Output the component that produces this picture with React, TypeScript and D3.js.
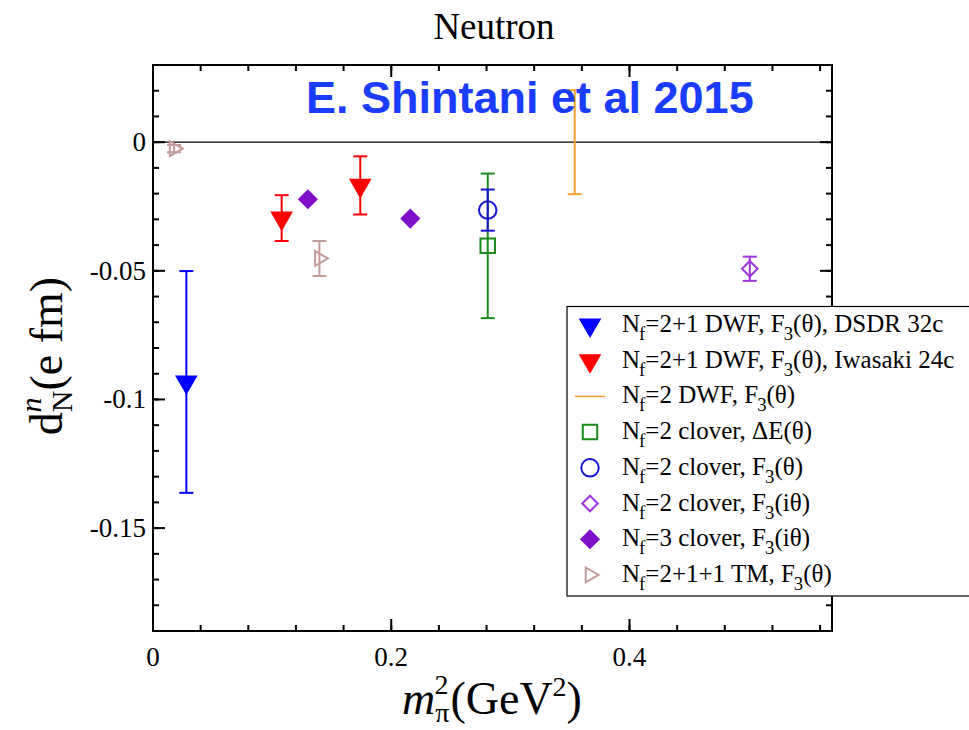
import React from 'react'
import * as d3 from 'd3'

const W = 969
const H = 730

// axis ranges and ticks
const xDomain = [0, 0.57]
const yDomain = [-0.19, 0.03]
const xMajorTicks = [0, 0.2, 0.4]
const xMajorLabels = ['0', '0.2', '0.4']
const yMajorTicks = [0, -0.05, -0.1, -0.15]
const yMajorLabels = ['0', '-0.05', '-0.1', '-0.15']

// Nf=2+1 DWF, F3(theta), DSDR 32c
const dsdrX = [0.028]
const dsdrY = [-0.0932]
const dsdrErr = [0.0431]
// Nf=2+1 DWF, F3(theta), Iwasaki 24c
const iwaX = [0.108, 0.174]
const iwaY = [-0.0295, -0.0168]
const iwaErr = [0.0089, 0.0113]
// Nf=2 DWF, F3(theta)
const dwf2X = [0.354]
const dwf2Y = [0.0]
const dwf2Err = [0.0202]
// Nf=2 clover, dE(theta)
const cloverDeX = [0.281]
const cloverDeY = [-0.0403]
const cloverDeErr = [0.0281]
// Nf=2 clover, F3(theta)
const cloverF3X = [0.281]
const cloverF3Y = [-0.0264]
const cloverF3Err = [0.008]
// Nf=2 clover, F3(i theta)
const clover2iX = [0.501]
const clover2iY = [-0.0492]
const clover2iErr = [0.0047]
// Nf=3 clover, F3(i theta)
const clover3iX = [0.13, 0.216]
const clover3iY = [-0.0222, -0.0297]
const clover3iErr = [0.0, 0.0]
// Nf=2+1+1 TM, F3(theta)
const tmX = [0.0177, 0.1397]
const tmY = [-0.0025, -0.0452]
const tmErr = [0.0014, 0.0068]

const legendLabels = [
  'N_f=2+1 DWF, F_3(θ), DSDR 32c',
  'N_f=2+1 DWF, F_3(θ), Iwasaki 24c',
  'N_f=2 DWF, F_3(θ)',
  'N_f=2 clover, ΔE(θ)',
  'N_f=2 clover, F_3(θ)',
  'N_f=2 clover, F_3(iθ)',
  'N_f=3 clover, F_3(iθ)',
  'N_f=2+1+1 TM, F_3(θ)',
]

type Marker = 'downTri' | 'none' | 'square' | 'circle' | 'diamond' | 'rightTri'

const series = [
  { xs: dsdrX, ys: dsdrY, errs: dsdrErr, color: '#0000ff', marker: 'downTri' as Marker, filled: true },
  { xs: iwaX, ys: iwaY, errs: iwaErr, color: '#ff0000', marker: 'downTri' as Marker, filled: true },
  { xs: dwf2X, ys: dwf2Y, errs: dwf2Err, color: '#f5a030', marker: 'none' as Marker, filled: false },
  { xs: cloverDeX, ys: cloverDeY, errs: cloverDeErr, color: '#1a8a1a', marker: 'square' as Marker, filled: false },
  { xs: cloverF3X, ys: cloverF3Y, errs: cloverF3Err, color: '#1515d0', marker: 'circle' as Marker, filled: false },
  { xs: clover2iX, ys: clover2iY, errs: clover2iErr, color: '#a035e0', marker: 'diamond' as Marker, filled: false },
  { xs: clover3iX, ys: clover3iY, errs: clover3iErr, color: '#7d10c8', marker: 'diamond' as Marker, filled: true },
  { xs: tmX, ys: tmY, errs: tmErr, color: '#c49a9a', marker: 'rightTri' as Marker, filled: false },
]

const serif = '"Liberation Serif", "Times New Roman", serif'

const symbolPath = (m: Marker, filled: boolean) => {
  if (m === 'downTri') return { d: d3.symbol(d3.symbolTriangle, 160)() || '', rot: 180 }
  if (m === 'rightTri') return { d: d3.symbol(d3.symbolTriangle, 95)() || '', rot: 90 }
  if (m === 'square') return { d: d3.symbol(d3.symbolSquare, 210)() || '', rot: 0 }
  if (m === 'circle') return { d: d3.symbol(d3.symbolCircle, 240)() || '', rot: 0 }
  if (m === 'diamond') return { d: d3.symbol(d3.symbolSquare, filled ? 150 : 120)() || '', rot: 45 }
  return { d: '', rot: 0 }
}

const MarkerShape = ({ x, y, m, color, filled }: { x: number; y: number; m: Marker; color: string; filled: boolean }) => {
  const s = symbolPath(m, filled)
  if (!s.d) return null
  return (
    <path
      d={s.d}
      transform={`translate(${x},${y}) rotate(${s.rot})`}
      fill={filled ? color : 'none'}
      stroke={color}
      strokeWidth={2}
    />
  )
}

// simple text with one-char sub/superscripts marked by _ and ^
const RichText = ({ x, y, text, size }: { x: number; y: number; text: string; size: number }) => {
  const parts: { t: string; kind: string }[] = []
  let buf = ''
  for (let i = 0; i < text.length; i++) {
    const c = text[i]
    if ((c === '_' || c === '^') && i + 1 < text.length) {
      if (buf) parts.push({ t: buf, kind: '' })
      buf = ''
      parts.push({ t: text[i + 1], kind: c === '_' ? 'sub' : 'sup' })
      i++
    } else buf += c
  }
  if (buf) parts.push({ t: buf, kind: '' })
  const sub = size * 0.32
  let cur = 0
  return (
    <text x={x} y={y} fontSize={size} fontFamily={serif} fill="#000">
      {parts.map((p, i) => {
        const target = p.kind === 'sub' ? sub : p.kind === 'sup' ? -size * 0.4 : 0
        const dy = target - cur
        cur = target
        return (
          <tspan key={i} dy={dy} dx={p.kind === 'sub' ? -1 : 0} fontSize={p.kind ? size * 0.75 : size}>
            {p.t}
          </tspan>
        )
      })}
    </text>
  )
}

const App = () => {
  const left = 153
  const right = 832
  const top = 65
  const bottom = 631

  const x = d3.scaleLinear().domain(xDomain).range([left, right])
  const y = d3.scaleLinear().domain(yDomain).range([bottom, top])

  const xMinor = d3.range(0, 0.5701, 0.04).filter(v => v <= xDomain[1])
  const yMinor = d3.range(-0.19, 0.0301, 0.01)

  const majorLen = 12
  const minorLen = 6
  const capW = 7

  const legendX = 567
  const legendY = 306.5
  const legendH = 289.5
  const rowY0 = 325
  const rowStep = 35.7

  return (
    <svg width={W} height={H} style={{ position: 'absolute', left: 0, top: 0, background: '#fff' }}>
      <rect x={0} y={0} width={W} height={H} fill="#fff" />

      {/* zero line */}
      <line x1={left} x2={right} y1={y(0)} y2={y(0)} stroke="#000" strokeWidth={1.2} />

      {/* error bars and markers */}
      {series.map((s, si) => (
        <g key={si}>
          {s.xs.map((xv, i) => {
            const cx = x(xv)
            const cy = y(s.ys[i])
            const e = s.errs[i]
            return (
              <g key={i}>
                {e > 0 && (
                  <g stroke={s.color} strokeWidth={2}>
                    <line x1={cx} x2={cx} y1={y(s.ys[i] + e)} y2={y(s.ys[i] - e)} />
                    <line x1={cx - capW} x2={cx + capW} y1={y(s.ys[i] + e)} y2={y(s.ys[i] + e)} />
                    <line x1={cx - capW} x2={cx + capW} y1={y(s.ys[i] - e)} y2={y(s.ys[i] - e)} />
                  </g>
                )}
                <MarkerShape x={cx} y={cy} m={s.marker} color={s.color} filled={s.filled} />
              </g>
            )
          })}
        </g>
      ))}

      {/* frame */}
      <rect x={left} y={top} width={right - left} height={bottom - top} fill="none" stroke="#000" strokeWidth={2} />

      {/* x ticks */}
      {xMinor.map((v, i) => (
        <g key={'xm' + i} stroke="#000" strokeWidth={2}>
          <line x1={x(v)} x2={x(v)} y1={bottom} y2={bottom - minorLen} />
          <line x1={x(v)} x2={x(v)} y1={top} y2={top + minorLen} />
        </g>
      ))}
      {xMajorTicks.map((v, i) => (
        <g key={'xM' + i}>
          <line x1={x(v)} x2={x(v)} y1={bottom} y2={bottom - majorLen} stroke="#000" strokeWidth={2} />
          <line x1={x(v)} x2={x(v)} y1={top} y2={top + majorLen} stroke="#000" strokeWidth={2} />
          <text x={x(v)} y={bottom + 35} textAnchor="middle" fontSize={27} fontFamily={serif}>
            {xMajorLabels[i]}
          </text>
        </g>
      ))}

      {/* y ticks */}
      {yMinor.map((v, i) => (
        <g key={'ym' + i} stroke="#000" strokeWidth={2}>
          <line x1={left} x2={left + minorLen} y1={y(v)} y2={y(v)} />
          <line x1={right} x2={right - minorLen} y1={y(v)} y2={y(v)} />
        </g>
      ))}
      {yMajorTicks.map((v, i) => (
        <g key={'yM' + i}>
          <line x1={left} x2={left + majorLen} y1={y(v)} y2={y(v)} stroke="#000" strokeWidth={2} />
          <line x1={right} x2={right - majorLen} y1={y(v)} y2={y(v)} stroke="#000" strokeWidth={2} />
          <text x={left - 7} y={y(v) + 9} textAnchor="end" fontSize={27} fontFamily={serif}>
            {yMajorLabels[i]}
          </text>
        </g>
      ))}

      {/* title */}
      <text x={494} y={39} textAnchor="middle" fontSize={37} fontFamily={serif}>
        Neutron
      </text>

      <text x={306} y={113} fontSize={45} fontWeight="bold" fontFamily='"Liberation Sans", Arial, sans-serif' fill="#1a3cff">
        E. Shintani et al 2015
      </text>

      {/* y axis label */}
      <text transform="translate(62,356) rotate(-90)" textAnchor="middle" fontSize={46} fontFamily={serif}>
        d
        <tspan dy={10} fontSize={30}>N</tspan>
        <tspan dx={-22} dy={-31} fontSize={30} fontStyle="italic">n</tspan>
        <tspan dx={7} dy={21}>(e fm)</tspan>
      </text>

      {/* x axis label */}
      <text x={492} y={714} textAnchor="middle" fontSize={46} fontFamily={serif}>
        <tspan fontStyle="italic">m</tspan>
        <tspan dy={8} fontSize={28}>π</tspan>
        <tspan dx={-15} dy={-28} fontSize={28}>2</tspan>
        <tspan dx={2} dy={20}>(GeV</tspan>
        <tspan dy={-18} fontSize={28}>2</tspan>
        <tspan dy={18}>)</tspan>
      </text>

      {/* legend */}
      <rect x={legendX} y={legendY} width={420} height={legendH} fill="#fff" stroke="#000" strokeWidth={1.2} />
      {series.map((s, i) => {
        const ry = rowY0 + i * rowStep
        return (
          <g key={'lg' + i}>
            {s.marker === 'none' ? (
              <line x1={575} x2={605} y1={ry} y2={ry} stroke={s.color} strokeWidth={1.5} />
            ) : (
              <MarkerShape x={590} y={ry} m={s.marker} color={s.color} filled={s.filled} />
            )}
            <RichText x={622} y={ry + 7} text={legendLabels[i]} size={25} />
          </g>
        )
      })}
    </svg>
  )
}

export default App
